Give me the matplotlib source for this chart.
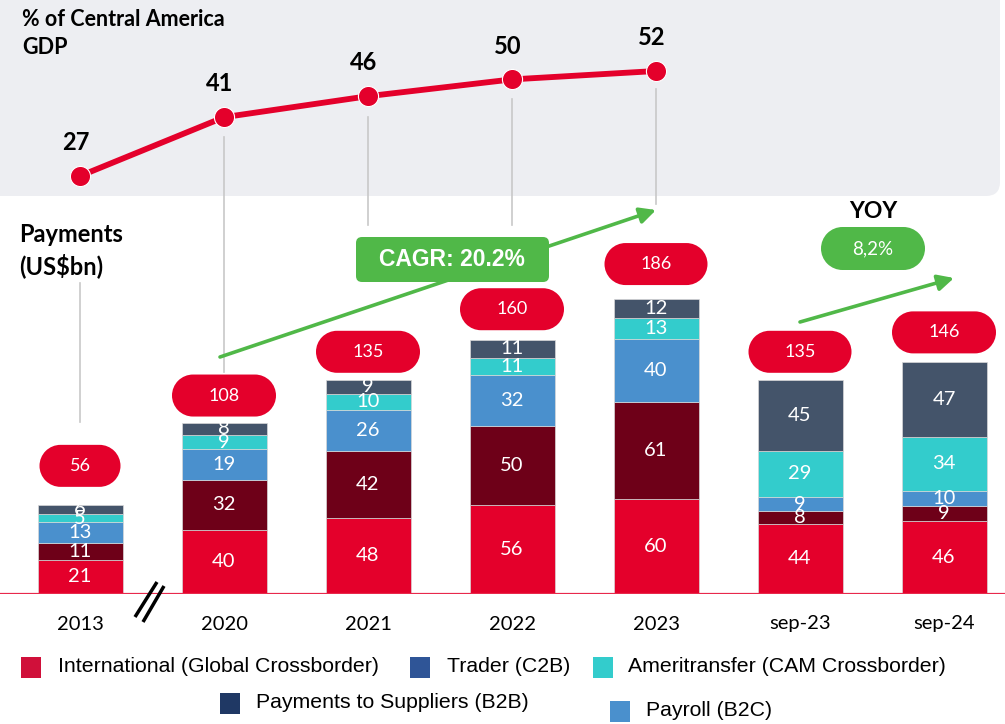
import matplotlib
matplotlib.use("Agg")
import matplotlib.pyplot as plt
from matplotlib.patches import FancyBboxPatch, Rectangle, PathPatch
from matplotlib.path import Path
import numpy as np

# ---------------- data ----------------
categories = ['2013', '2020', '2021', '2022', '2023', 'sep-23', 'sep-24']
international = [21, 40, 48, 56, 60, 44, 46]
trader = [11, 32, 42, 50, 61, 8, 9]
payroll = [13, 19, 26, 32, 40, 9, 10]
ameritransfer = [5, 9, 10, 11, 13, 29, 34]
suppliers = [6, 8, 9, 11, 12, 45, 47]
totals = [56, 108, 135, 160, 186, 135, 146]

gdp_categories = ['2013', '2020', '2021', '2022', '2023']
gdp_pct = [27, 41, 46, 50, 52]

cagr_label = 'CAGR: 20.2%'
yoy_title = 'YOY'
yoy_label = '8,2%'

legend_labels = ['International (Global Crossborder)', 'Trader (C2B)',
                 'Ameritransfer (CAM Crossborder)', 'Payments to Suppliers (B2B)',
                 'Payroll (B2C)']

# ---------------- style ----------------
W, H = 1005, 724
RED = '#E4002B'
MAROON = '#6E0018'
PAYROLL = '#4A90CD'
TEAL = '#33CCCC'
SLATE = '#44546A'
GREEN = '#50B848'
PANEL = '#EDEEF2'
seg_colors = [RED, MAROON, PAYROLL, TEAL, SLATE]
legend_colors = ['#D0103A', '#2F5597', '#33CCCC', '#1F3864', '#4A90CD']
FONT = 'Lato'

fig = plt.figure(figsize=(W / 100, H / 100), dpi=100)
fig.patch.set_facecolor('white')

# background panel axes (pixel coords)
ax_bg = fig.add_axes([0, 0, 1, 1])
ax_bg.set_xlim(0, W); ax_bg.set_ylim(H, 0); ax_bg.axis('off')
ax_bg.add_patch(FancyBboxPatch((-20, -20), 1020, 216,
                               boxstyle='round,pad=0,rounding_size=14',
                               facecolor=PANEL, edgecolor='none'))

# bar axes
x0_px, step_px = 80, 144
base_px = 593.5
px_per_unit = 1.583
ax = fig.add_axes([0, (H - base_px) / H, 1, base_px / H])
ax.set_xlim(-x0_px / step_px, (W - x0_px) / step_px)
ax.set_ylim(0, base_px / px_per_unit)
ax.axis('off')
ax.patch.set_alpha(0)

x = np.arange(len(categories))
series = [international, trader, payroll, ameritransfer, suppliers]
bottom = np.zeros(len(categories))
for vals, col in zip(series, seg_colors):
    vals = np.array(vals, dtype=float)
    ax.bar(x, vals, bottom=bottom, width=85 / step_px, color=col,
           edgecolor='#D8D8D8', linewidth=0.5, zorder=2)
    for xi, b, v in zip(x, bottom, vals):
        ax.text(xi, b + v / 2, f'{int(v)}', ha='center', va='center',
                color='white', fontsize=14.5, family=FONT, zorder=4)
    bottom += vals
ax.axhline(0, color='#E8294C', lw=1.6, zorder=3)

# line axes (GDP %)
panel_h = 196
pt_px0, px_per_pct = 176, 4.2
ax2 = fig.add_axes([0, (H - panel_h) / H, 1, panel_h / H])
ax2.set_xlim(ax.get_xlim())
ax2.set_ylim(27 - (panel_h - pt_px0) / px_per_pct, 27 + pt_px0 / px_per_pct)
ax2.axis('off')
ax2.patch.set_alpha(0)
gx = np.arange(len(gdp_categories))
ax2.plot(gx, gdp_pct, color=RED, lw=4.2, marker='o', markersize=14.5,
         markeredgecolor='white', markeredgewidth=0.8, zorder=3)
for xi, v in zip(gx, gdp_pct):
    ax2.annotate(f'{v}', (xi, v), xytext=(-3, 24), textcoords='offset points',
                 ha='center', va='center', fontsize=17, fontweight='bold',
                 family=FONT, color='black')

# overlay (pixel coords)
ax_o = fig.add_axes([0, 0, 1, 1])
ax_o.set_xlim(0, W); ax_o.set_ylim(H, 0); ax_o.axis('off')
ax_o.patch.set_alpha(0)


def to_px(a, xv, yv):
    d = a.transData.transform((xv, yv))
    return d[0], H - d[1]


def pill(cx, cy, w, h, color, z):
    r = h / 2
    right = Path.arc(-90, 90)
    left = Path.arc(90, 270)
    verts = np.vstack([right.vertices * r + [cx + w / 2 - r, cy],
                       left.vertices * r + [cx - w / 2 + r, cy]])
    codes = np.concatenate([right.codes, [Path.LINETO], left.codes[1:]])
    verts = np.vstack([verts, verts[:1]])
    codes = np.concatenate([codes, [Path.CLOSEPOLY]])
    return PathPatch(Path(verts, codes), facecolor=color, edgecolor='none', zorder=z)


# connectors (decorative)
conn_top = [283, 137, 117, 99, 89]
conn_bot = [422, 372, 225, 225, 204]
for xi, t, b in zip(gx, conn_top, conn_bot):
    px, _ = to_px(ax, xi, 0)
    ax_o.plot([px, px], [t, b], color='#C8C8C8', lw=1.2, zorder=1)

# total pills
pill_w = [81, 104, 104, 104, 103, 103, 104]
pill_gap = [39, 27, 28, 31, 35, 28, 30]
pill_h = 42
for xi, tot, pw, gap in zip(x, totals, pill_w, pill_gap):
    px, py = to_px(ax, xi, tot)
    cy = py - gap
    ax_o.add_patch(pill(px, cy, pw, pill_h, RED, 5))
    ax_o.text(px, cy, f'{tot}', ha='center', va='center', color='white',
              fontsize=13, family=FONT, zorder=6)

# category labels
for xi, c in zip(x, categories):
    px, _ = to_px(ax, xi, 0)
    ax_o.text(px, 624, c, ha='center', va='center', fontsize=14.5,
              family=FONT, color='black')

# axis break marks
ax_o.plot([135, 157], [617, 582], color='black', lw=2.5, solid_capstyle='butt')
ax_o.plot([143, 164], [622, 586], color='black', lw=2.5, solid_capstyle='butt')

# CAGR arrow + box
ax_o.annotate('', xy=(656, 210), xytext=(220, 357),
              arrowprops=dict(arrowstyle='-|>', color=GREEN, lw=2.6,
                              mutation_scale=24, shrinkA=0, shrinkB=0), zorder=3)
ax_o.add_patch(FancyBboxPatch((356, 237), 193, 45,
                              boxstyle='round,pad=0,rounding_size=6',
                              facecolor=GREEN, edgecolor='none', zorder=7))
ax_o.text(452, 260, cagr_label, ha='center', va='center', color='white',
          fontsize=16.5, fontweight='bold', family='Liberation Sans', zorder=8)

# YOY arrow + pill
ax_o.annotate('', xy=(954, 278), xytext=(800, 322),
              arrowprops=dict(arrowstyle='-|>', color=GREEN, lw=2.6,
                              mutation_scale=24, shrinkA=0, shrinkB=0), zorder=3)
ax_o.text(873, 212, yoy_title, ha='center', va='center', fontsize=16.5,
          fontweight='bold', family=FONT, color='black')
ax_o.add_patch(pill(873, 248.5, 104, 43, GREEN, 7))
ax_o.text(873, 249, yoy_label, ha='center', va='center', color='white',
          fontsize=13.5, family=FONT, zorder=8)

# titles
ax_o.text(22, 19, '% of Central America', ha='left', va='center', fontsize=15.5,
          fontweight='bold', family=FONT)
ax_o.text(22, 47, 'GDP', ha='left', va='center', fontsize=15.5,
          fontweight='bold', family=FONT)
ax_o.text(19, 234, 'Payments', ha='left', va='center', fontsize=17,
          fontweight='bold', family=FONT)
ax_o.text(19, 266, '(US$bn)', ha='left', va='center', fontsize=17,
          fontweight='bold', family=FONT)

# legend (manual placement)
leg_pos = [(21, 667, 58), (410, 667, 447), (593, 667, 628), (220, 703, 256), (610, 711, 646)]
for (sx, cy, tx), lab, col in zip(leg_pos, legend_labels, legend_colors):
    ax_o.add_patch(Rectangle((sx, cy - 10.5), 20, 21, facecolor=col, edgecolor='none'))
    ax_o.text(tx, cy, lab, ha='left', va='center', fontsize=15.3,
              family='Liberation Sans', color='black')

fig.savefig('out.png', dpi=100)
